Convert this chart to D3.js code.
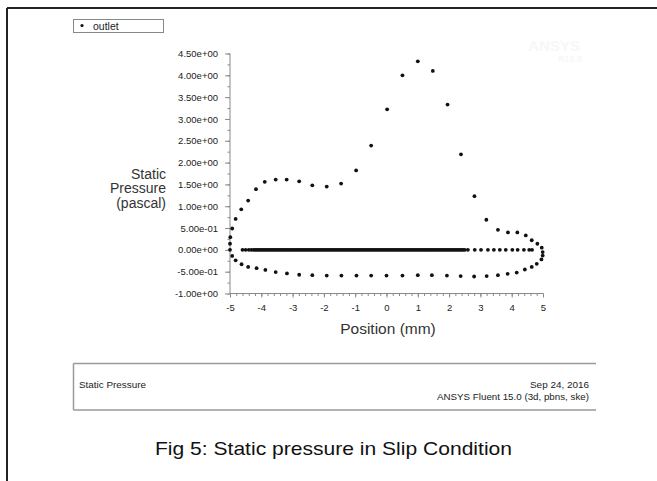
<!DOCTYPE html>
<html>
<head>
<meta charset="utf-8">
<script src="https://cdn.jsdelivr.net/npm/d3@7"></script>
<style>
  html, body { margin: 0; padding: 0; background: #fff; }
  svg { display: block; font-family: Arial, "Liberation Sans", sans-serif; }
</style>
</head>
<body>
<svg id="chart" width="657" height="481"></svg>
<script>
// upper branch of the outlet profile (left to right)
const upperX = [-5.0, -4.99, -4.93, -4.82, -4.64, -4.42, -4.17, -3.89, -3.54, -3.19, -2.79, -2.37, -1.91, -1.45, -0.97,
  -0.49, 0.02, 0.51, 1.0, 1.48, 1.95, 2.38, 2.81, 3.19, 3.56, 3.88, 4.18, 4.45, 4.64, 4.82, 4.96];
const upperY = [0.14, 0.29, 0.49, 0.71, 0.93, 1.13, 1.39, 1.56, 1.61, 1.61, 1.57, 1.48, 1.45, 1.52, 1.82,
  2.39, 3.22, 4.0, 4.32, 4.1, 3.33, 2.19, 1.23, 0.69, 0.46, 0.40, 0.40, 0.33, 0.22, 0.14, 0.05];

// lower branch
const lowerX = [-5.0, -4.93, -4.82, -4.63, -4.42, -4.15, -3.87, -3.54, -3.18, -2.79, -2.37, -1.91, -1.44, -0.96, -0.49,
  0.0, 0.51, 1.0, 1.45, 1.93, 2.37, 2.8, 3.2, 3.56, 3.87, 4.16, 4.42, 4.64, 4.8, 4.95, 4.99, 4.99];
const lowerY = [0.0, -0.14, -0.24, -0.33, -0.39, -0.42, -0.46, -0.51, -0.54, -0.57, -0.58, -0.59, -0.59, -0.59, -0.59,
  -0.59, -0.59, -0.58, -0.58, -0.59, -0.60, -0.61, -0.60, -0.58, -0.55, -0.52, -0.45, -0.39, -0.32, -0.22, -0.13, -0.05];

// centre line points (all at 0 Pa), dense mesh in the middle
const zeroX = [-4.6, -4.5, -4.4, -4.32, -4.25, -4.2, -4.15, -4.1, -4.05, -4.0, -3.95, -3.9, -3.85, -3.8, -3.75, -3.7,
  -3.65, -3.6, -3.55, -3.5, -3.45, -3.4, -3.35, -3.3, -3.25, -3.2, -3.15, -3.1, -3.05, -3.0, -2.95, -2.9, -2.85, -2.8,
  -2.75, -2.7, -2.65, -2.6, -2.55, -2.5, -2.45, -2.4, -2.35, -2.3, -2.25, -2.2, -2.15, -2.1, -2.05, -2.0, -1.95, -1.9,
  -1.85, -1.8, -1.75, -1.7, -1.65, -1.6, -1.55, -1.5, -1.45, -1.4, -1.35, -1.3, -1.25, -1.2, -1.15, -1.1, -1.05, -1.0,
  -0.95, -0.9, -0.85, -0.8, -0.75, -0.7, -0.65, -0.6, -0.55, -0.5, -0.45, -0.4, -0.35, -0.3, -0.25, -0.2, -0.15, -0.1,
  -0.05, 0.0, 0.05, 0.1, 0.15, 0.2, 0.25, 0.3, 0.35, 0.4, 0.45, 0.5, 0.55, 0.6, 0.65, 0.7, 0.75, 0.8, 0.85, 0.9, 0.95,
  1.0, 1.05, 1.1, 1.15, 1.2, 1.25, 1.3, 1.35, 1.4, 1.45, 1.5, 1.55, 1.6, 1.65, 1.7, 1.75, 1.8, 1.85, 1.9, 1.95, 2.0,
  2.05, 2.1, 2.15, 2.2, 2.25, 2.3, 2.35, 2.4, 2.45, 2.5, 2.6, 2.82, 3.02, 3.24, 3.43, 3.62, 3.81, 4.02, 4.19, 4.39,
  4.56, 4.65];

const yTicks = [4.5, 4.0, 3.5, 3.0, 2.5, 2.0, 1.5, 1.0, 0.5, 0.0, -0.5, -1.0];
const yTickLabels = ['4.50e+00', '4.00e+00', '3.50e+00', '3.00e+00', '2.50e+00', '2.00e+00', '1.50e+00',
  '1.00e+00', '5.00e-01', '0.00e+00', '-5.00e-01', '-1.00e+00'];
const xTicks = [-5, -4, -3, -2, -1, 0, 1, 2, 3, 4, 5];

const svg = d3.select('#chart');

const x = d3.scaleLinear().domain([-5, 5]).range([230, 543]);
const y = d3.scaleLinear().domain([-1, 4.5]).range([293.5, 53.5]);

// outer frame (top + left edge)
svg.append('line').attr('x1', 7).attr('x2', 657).attr('y1', 8).attr('y2', 8)
  .attr('stroke', '#222').attr('stroke-width', 2);
svg.append('line').attr('x1', 7).attr('x2', 7).attr('y1', 8).attr('y2', 481)
  .attr('stroke', '#222').attr('stroke-width', 2);

// faint watermark
svg.append('text').attr('x', 580).attr('y', 51).attr('text-anchor', 'end')
  .attr('font-size', 15).attr('font-weight', 'bold').attr('fill', '#f7f7f7').text('ANSYS');
svg.append('text').attr('x', 582).attr('y', 62).attr('text-anchor', 'end')
  .attr('font-size', 9).attr('font-weight', 'bold').attr('fill', '#f7f7f7').text('R15.0');

// legend
svg.append('rect').attr('x', 73.5).attr('y', 19.5).attr('width', 90).attr('height', 13)
  .attr('fill', '#fff').attr('stroke', '#888');
svg.append('circle').attr('cx', 82).attr('cy', 25.5).attr('r', 1.6).attr('fill', '#111');
svg.append('text').attr('x', 93).attr('y', 29.5).attr('font-size', 10.5).attr('fill', '#222').text('outlet');

// y axis
const yAxis = svg.append('g').attr('transform', 'translate(230,0)');
yAxis.call(d3.axisLeft(y).tickValues(d3.range(-1, 4.51, 0.25)).tickSize(2.5).tickFormat(''))
  .call(g => g.select('.domain').remove());
yAxis.append('g').call(d3.axisLeft(y).tickValues(yTicks).tickSize(5)
  .tickFormat((d, i) => yTickLabels[i]))
  .call(g => g.select('.domain').remove());
yAxis.append('line').attr('x1', 0).attr('x2', 0).attr('y1', y(4.5)).attr('y2', y(-1));
yAxis.selectAll('line').attr('stroke', '#8a8a8a');
yAxis.selectAll('text').attr('font-size', 9.5).attr('fill', '#222').attr('x', -12)
  .style('font-family', 'Arial, "Liberation Sans", sans-serif');

// x axis
const xAxis = svg.append('g').attr('transform', `translate(0,${y(-1)})`);
xAxis.call(d3.axisBottom(x).tickValues(d3.range(-5, 5.01, 0.2)).tickSize(2.5).tickFormat(''))
  .call(g => g.select('.domain').remove());
xAxis.append('g').call(d3.axisBottom(x).tickValues(xTicks).tickSize(4).tickFormat(d => String(d)))
  .call(g => g.select('.domain').remove());
xAxis.append('line').attr('x1', x(-5)).attr('x2', x(5)).attr('y1', 0).attr('y2', 0);
xAxis.selectAll('line').attr('stroke', '#8a8a8a');
xAxis.selectAll('text').attr('font-size', 9.5).attr('fill', '#222').attr('y', 11)
  .style('font-family', 'Arial, "Liberation Sans", sans-serif');

// axis titles
['Static', 'Pressure', '(pascal)'].forEach((t, i) => {
  svg.append('text').attr('x', 166).attr('y', 179 + i * 14.3).attr('text-anchor', 'end')
    .attr('font-size', 14).attr('fill', '#333').text(t);
});
svg.append('text').attr('x', 388).attr('y', 334).attr('text-anchor', 'middle')
  .attr('font-size', 15.5).attr('fill', '#333').text('Position (mm)');

// data points
const points = [];
upperX.forEach((d, i) => points.push([d, upperY[i]]));
lowerX.forEach((d, i) => points.push([d, lowerY[i]]));
zeroX.forEach(d => points.push([d, 0]));

svg.append('g').selectAll('circle')
  .data(points)
  .enter()
  .append('circle')
  .attr('cx', d => x(d[0]))
  .attr('cy', d => y(d[1]))
  .attr('r', 1.9)
  .attr('fill', '#111');

// footer box
const foot = svg.append('g').attr('stroke', '#9a9a9a').attr('stroke-width', 1.5);
foot.append('line').attr('x1', 73.5).attr('x2', 596).attr('y1', 363.5).attr('y2', 363.5);
foot.append('line').attr('x1', 73.5).attr('x2', 596).attr('y1', 410).attr('y2', 410);
foot.append('line').attr('x1', 73.5).attr('x2', 73.5).attr('y1', 363.5).attr('y2', 410);

svg.append('text').attr('x', 79).attr('y', 388).attr('font-size', 9).attr('fill', '#222')
  .attr('textLength', 67).attr('lengthAdjust', 'spacingAndGlyphs').text('Static Pressure');
svg.append('text').attr('x', 530).attr('y', 387.5)
  .attr('font-size', 9).attr('fill', '#222')
  .attr('textLength', 59).attr('lengthAdjust', 'spacingAndGlyphs').text('Sep 24, 2016');
svg.append('text').attr('x', 437).attr('y', 400)
  .attr('font-size', 9).attr('fill', '#222')
  .attr('textLength', 152).attr('lengthAdjust', 'spacingAndGlyphs').text('ANSYS Fluent 15.0 (3d, pbns, ske)');

// caption
svg.append('text').attr('x', 155).attr('y', 455)
  .attr('font-size', 19).attr('fill', '#111')
  .attr('textLength', 357).attr('lengthAdjust', 'spacingAndGlyphs')
  .text('Fig 5: Static pressure in Slip Condition');
</script>
</body>
</html>
